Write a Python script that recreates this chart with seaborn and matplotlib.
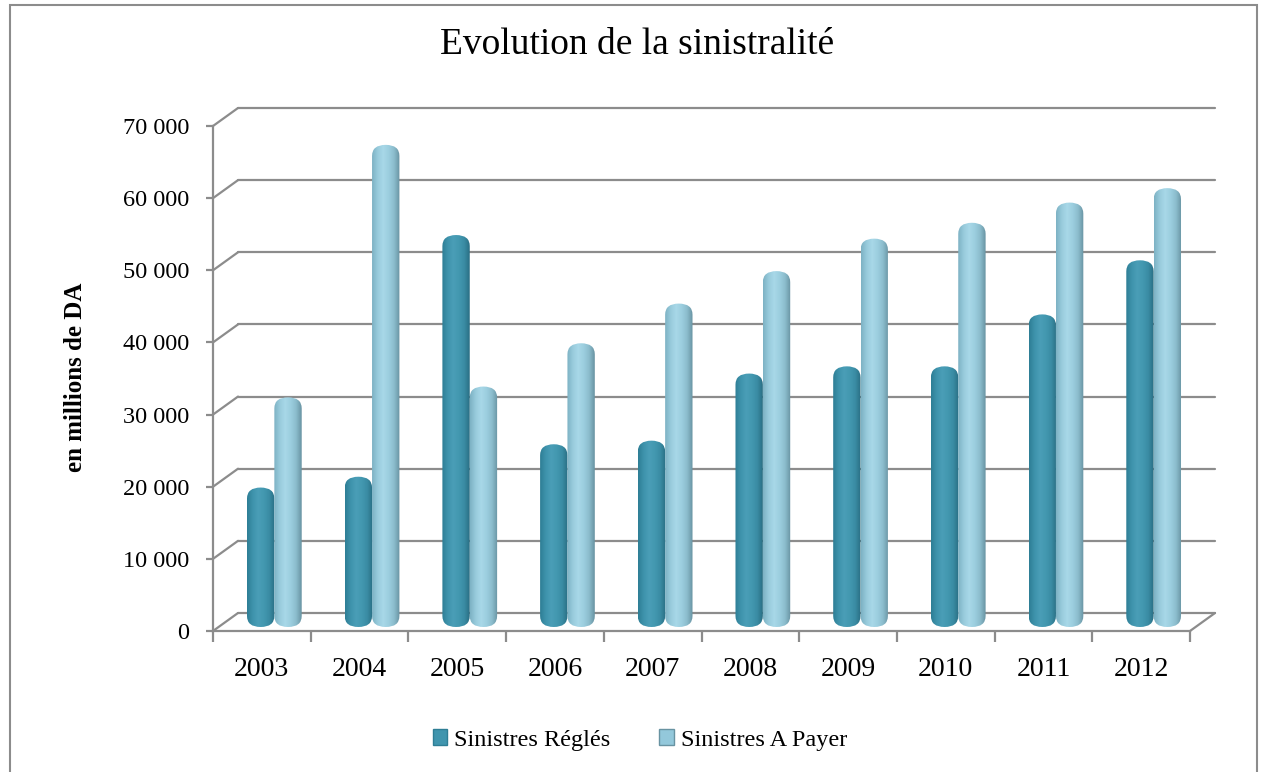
import numpy as np
import pandas as pd
import matplotlib
matplotlib.use("Agg")
import matplotlib.pyplot as plt
import seaborn as sns
from matplotlib.patches import FancyBboxPatch, Rectangle, Patch
from matplotlib.colors import LinearSegmentedColormap
from matplotlib.transforms import ScaledTranslation
from matplotlib.lines import Line2D

# ---------------- data ----------------
years = ["2003", "2004", "2005", "2006", "2007", "2008", "2009", "2010", "2011", "2012"]
series_names = ["Sinistres Réglés", "Sinistres A Payer"]
reglés = [18500, 20000, 53500, 24500, 25000, 34300, 35300, 35300, 42500, 50000]
a_payer = [31000, 66000, 32500, 38500, 44000, 48500, 53000, 55200, 58000, 60000]
y_ticks = [0, 10000, 20000, 30000, 40000, 50000, 60000, 70000]
y_tick_labels = ["0", "10 000", "20 000", "30 000", "40 000", "50 000", "60 000", "70 000"]
title = "Evolution de la sinistralité"
y_label = "en millions de DA"

df = pd.DataFrame({
    "year": years * 2,
    "series": [series_names[0]] * len(years) + [series_names[1]] * len(years),
    "value": reglés + a_payer,
})

# ---------------- style ----------------
sns.set_theme(style="white")
plt.rcParams["font.family"] = ["Liberation Serif", "DejaVu Serif"]
plt.rcParams["text.color"] = "black"
plt.rcParams["xtick.color"] = "black"
plt.rcParams["ytick.color"] = "black"
plt.rcParams["xtick.labelcolor"] = "black"
plt.rcParams["ytick.labelcolor"] = "black"

W, H, DPI = 12.63, 7.72, 100
fig = plt.figure(figsize=(W, H), dpi=DPI)
fig.patch.set_facecolor("white")

# axes = front plane of the 3D box
ax = fig.add_axes([213 / 1263, 1 - 631 / 772, 977 / 1263, 505 / 772])
ax.set_facecolor("none")

c_dark = "#4095AE"
c_light = "#93C8DB"

sns.barplot(data=df, x="year", y="value", hue="series", palette=[c_dark, c_light],
            width=0.56, gap=0, dodge=True, saturation=1, legend=False, ax=ax)

ax.set_xlim(-0.5, len(years) - 0.5)
ax.set_ylim(0, 70000)
ax.set_xlabel("")
ax.set_ylabel("")

grid_c = "#8C8C8C"
for s in ["top", "right"]:
    ax.spines[s].set_visible(False)
for s in ["left", "bottom"]:
    ax.spines[s].set_color(grid_c)
    ax.spines[s].set_linewidth(1.6)

ax.set_yticks(y_ticks)
ax.set_yticklabels(y_tick_labels, fontsize=17.5, color="black")
ax.tick_params(axis="y", which="major", length=5, width=1.6, color=grid_c, pad=12, left=True)
ax.set_xticks(range(len(years)))
ax.set_xticklabels(years, fontsize=20, color="black")
ax.tick_params(axis="x", which="major", length=0, pad=19)
ax.set_xticks([i - 0.5 for i in range(len(years) + 1)], minor=True)
ax.tick_params(axis="x", which="minor", length=8, width=1.6, color=grid_c, bottom=True)

fig.canvas.draw()

# pixel scales
bb = ax.get_window_extent()
px_y = bb.height / 70000.0

# back wall offset (pixels)
dx_back, dy_back = 25, 18
off_back = ScaledTranslation(dx_back / DPI, dy_back / DPI, fig.dpi_scale_trans)
tr_back = ax.transData + off_back

for v in y_ticks:
    ax.add_line(Line2D([-0.5, len(years) - 0.5], [v, v], transform=tr_back,
                       color=grid_c, lw=1.6, clip_on=False, zorder=0.5))
    p0 = ax.transData.transform((-0.5, v))
    p1 = p0 + np.array([dx_back, dy_back])
    f0 = fig.transFigure.inverted().transform(p0)
    f1 = fig.transFigure.inverted().transform(p1)
    fig.add_artist(Line2D([f0[0], f1[0]], [f0[1], f1[1]], transform=fig.transFigure,
                          color=grid_c, lw=1.6, zorder=0.5))
# right floor diagonal
p0 = ax.transData.transform((len(years) - 0.5, 0))
p1 = p0 + np.array([dx_back, dy_back])
f0 = fig.transFigure.inverted().transform(p0)
f1 = fig.transFigure.inverted().transform(p1)
fig.add_artist(Line2D([f0[0], f1[0]], [f0[1], f1[1]], transform=fig.transFigure,
                      color=grid_c, lw=1.6, zorder=0.5))

# ---------------- cylinder-like bars ----------------
off_bar = ScaledTranslation(12.5 / DPI, 4 / DPI, fig.dpi_scale_trans)
tr_bar = ax.transData + off_bar

cmap_dark = LinearSegmentedColormap.from_list(
    "d", ["#2E7E95", "#3E93AC", "#4A9EB7", "#4398B0", "#3A8CA4", "#2A6F84"])
cmap_light = LinearSegmentedColormap.from_list(
    "l", ["#7DB2C4", "#98CBDC", "#A8D8E8", "#9CCEDF", "#8BBCCC", "#6893A2"])

grad = np.linspace(0, 1, 64).reshape(1, -1)
bars = list(ax.patches)
n = len(years)
cap_px = 6  # half-height of the top ellipse of the cylinder
for i, p in enumerate(bars):
    x, w, h = p.get_x(), p.get_width(), p.get_height()
    p.set_visible(False)
    cmap = cmap_dark if i < n else cmap_light
    rx = w / 2
    ry = 11 / px_y
    m_aspect = ry / rx
    htot = h + cap_px / px_y
    fb = FancyBboxPatch((x, 0), w, htot, boxstyle=f"round,pad=0,rounding_size={rx}",
                        mutation_aspect=m_aspect, transform=tr_bar,
                        facecolor="none", edgecolor="none", zorder=2)
    ax.add_patch(fb)
    im = ax.imshow(grad, extent=[x, x + w, 0, htot], aspect="auto", cmap=cmap,
                   interpolation="bilinear", zorder=2, origin="lower")
    im.set_transform(tr_bar)
    im.set_clip_path(fb)

ax.set_xlim(-0.5, len(years) - 0.5)
ax.set_ylim(0, 70000)

# ---------------- texts ----------------
fig.text(637 / 1263, 1 - 45 / 772, title, ha="center", va="center", fontsize=27,
         color="black", family=["Liberation Serif", "DejaVu Serif"])
fig.text(75 / 1263, 1 - 377 / 772, y_label, rotation=90, ha="center", va="center",
         fontsize=18, fontweight="bold", color="black",
         family=["Liberation Serif", "DejaVu Serif"])

handles = [Patch(facecolor=c_dark, edgecolor="#2E7E95"),
           Patch(facecolor=c_light, edgecolor="#6893A2")]
leg = fig.legend(handles, series_names, loc="center", bbox_to_anchor=(640 / 1263, 1 - 740 / 772),
                 ncol=2, frameon=False, fontsize=17.5, handlelength=0.6, handleheight=0.6,
                 handletextpad=0.3, columnspacing=2.0)
for t in leg.get_texts():
    t.set_color("black")

# outer border
fig.add_artist(Rectangle((10 / 1263, -0.02), 1247 / 1263, 1.02 - 5 / 772,
                         transform=fig.transFigure, fill=False, edgecolor="#8C8C8C", lw=1.5))

fig.savefig("out.png", dpi=DPI)
